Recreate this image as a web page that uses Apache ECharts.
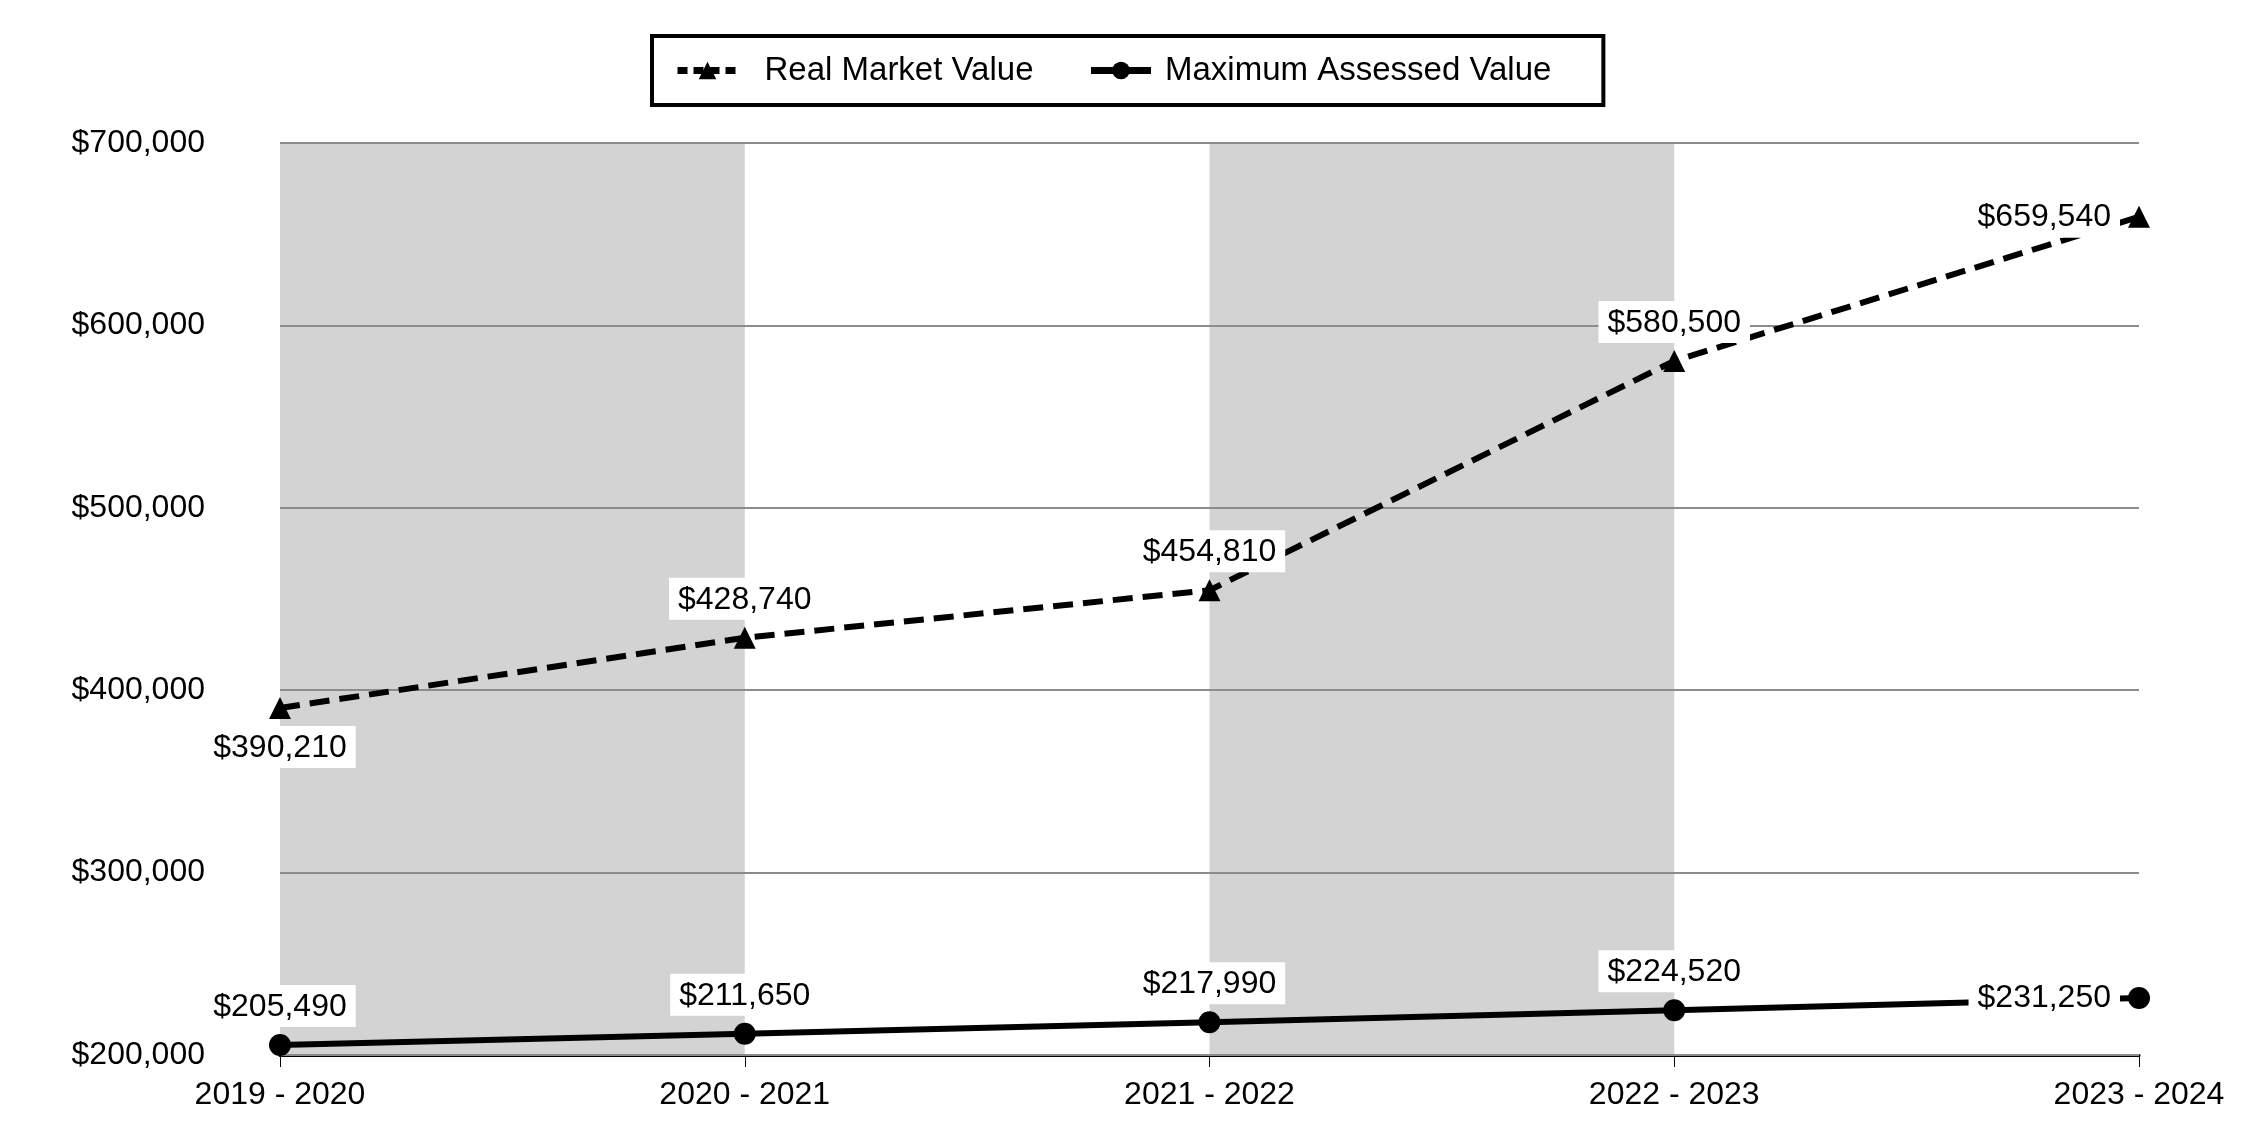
<!DOCTYPE html>
<html>
<head>
<meta charset="utf-8">
<script src="https://cdn.jsdelivr.net/npm/echarts@6/dist/echarts.min.js"></script>
<style>html,body{margin:0;padding:0;background:#fff}#c{width:2250px;height:1140px}</style>
</head>
<body>
<div id="c"></div>
<script>
const categories = ['2019 - 2020', '2020 - 2021', '2021 - 2022', '2022 - 2023', '2023 - 2024'];
const realMarketValue = [390210, 428740, 454810, 580500, 659540];
const maxAssessedValue = [205490, 211650, 217990, 224520, 231250];
const yTicks = [200000, 300000, 400000, 500000, 600000, 700000];

const rmvLabelPos = ['bottom', 'top', 'top', 'top', 'left'];
const mavLabelPos = ['top', 'top', 'top', 'top', 'left'];

const FONT = '"Liberation Sans", Arial, sans-serif';
const FS = 32;
const fmt = v => '$' + Number(v).toLocaleString('en-US');

const labelBase = {
  show: true,
  color: '#000',
  fontFamily: FONT,
  fontSize: FS,
  backgroundColor: '#fff',
  padding: [6, 9, 4, 9],
  distance: 7,
  formatter: p => fmt(p.value)
};

function build(values, positions) {
  return values.map((v, i) => ({
    value: v,
    label: Object.assign({}, labelBase, { position: positions[i], distance: positions[i] === 'left' ? 8 : 7 })
  }));
}

const chart = echarts.init(document.getElementById('c'), null, { renderer: 'canvas' });
chart.setOption({
  animation: false,
  backgroundColor: '#fff',
  textStyle: { fontFamily: FONT },
  legend: {
    top: 36,
    left: 652,
    borderColor: '#000',
    borderWidth: 4,
    padding: [18, 52, 18, 22],
    itemGap: 54,
    itemWidth: 60,
    itemHeight: 22,
    textStyle: { color: '#000', fontSize: 33, fontFamily: FONT },
    data: [
      { name: 'Real Market Value', lineStyle: { width: 7, type: [10, 6] }, textStyle: { padding: [0, 0, 0, 22] } },
      { name: 'Maximum Assessed Value', lineStyle: { width: 7 }, textStyle: { padding: [0, 0, 0, 9] } }
    ]
  },
  grid: { left: 280, right: 111, top: 143, bottom: 85, containLabel: false },
  xAxis: {
    type: 'category',
    data: categories,
    boundaryGap: false,
    z: 0,
    axisLine: { show: true, lineStyle: { color: '#000', width: 3 } },
    axisTick: { show: true, length: 12, lineStyle: { color: '#000', width: 1 } },
    axisLabel: { color: '#000', fontSize: FS, fontFamily: FONT, margin: 24 },
    splitLine: { show: false },
    splitArea: { show: true, areaStyle: { color: ['#d3d3d3', 'rgba(255,255,255,0)'] } }
  },
  yAxis: {
    type: 'value',
    min: yTicks[0],
    max: yTicks[yTicks.length - 1],
    interval: 100000,
    z: 1,
    axisLine: { show: false },
    axisTick: { show: false },
    axisLabel: { color: '#000', fontSize: FS, fontFamily: FONT, margin: 75, formatter: v => fmt(v) },
    splitLine: { show: true, lineStyle: { color: '#8c8c8c', width: 2 } }
  },
  series: [
    {
      name: 'Real Market Value',
      type: 'line',
      data: build(realMarketValue, rmvLabelPos),
      symbol: 'triangle',
      symbolSize: 22,
      z: 3,
      itemStyle: { color: '#000' },
      lineStyle: { color: '#000', width: 6, type: [20, 10] }
    },
    {
      name: 'Maximum Assessed Value',
      type: 'line',
      data: build(maxAssessedValue, mavLabelPos),
      symbol: 'circle',
      symbolSize: 22,
      z: 3,
      itemStyle: { color: '#000' },
      lineStyle: { color: '#000', width: 6 }
    }
  ]
});
</script>
</body>
</html>
